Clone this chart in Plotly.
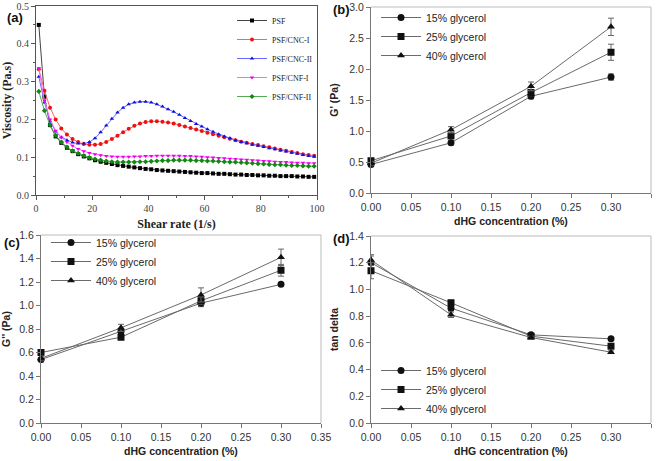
import plotly.graph_objects as go

# ---------------- Panel (a) data ----------------
shear_rate = [1, 3, 5, 7, 9, 11, 13, 15, 17, 19, 21, 23, 25, 27, 29, 31, 33, 35, 37, 39,
              41, 43, 45, 47, 49, 51, 53, 55, 57, 59, 61, 63, 65, 67, 69, 71, 73, 75, 77, 79,
              81, 83, 85, 87, 89, 91, 93, 95, 97, 99]
psf = [0.450, 0.260, 0.185, 0.155, 0.138, 0.125, 0.116, 0.108, 0.102, 0.097,
       0.092, 0.088, 0.085, 0.082, 0.079, 0.077, 0.075, 0.073, 0.071, 0.069,
       0.068, 0.066, 0.065, 0.064, 0.063, 0.062, 0.061, 0.060, 0.059, 0.058,
       0.058, 0.057, 0.056, 0.056, 0.055, 0.054, 0.054, 0.053, 0.053, 0.052,
       0.052, 0.051, 0.051, 0.050, 0.050, 0.050, 0.049, 0.049, 0.048, 0.048]
psf_cnc1 = [0.333, 0.276, 0.231, 0.200, 0.176, 0.160, 0.148, 0.140, 0.135, 0.133,
            0.133, 0.135, 0.140, 0.148, 0.157, 0.166, 0.175, 0.183, 0.189, 0.193,
            0.195, 0.195, 0.194, 0.192, 0.189, 0.185, 0.181, 0.177, 0.173, 0.169,
            0.165, 0.161, 0.157, 0.153, 0.149, 0.145, 0.141, 0.138, 0.135, 0.132,
            0.129, 0.126, 0.123, 0.120, 0.117, 0.114, 0.111, 0.108, 0.106, 0.104]
psf_cnc2 = [0.313, 0.245, 0.195, 0.168, 0.153, 0.145, 0.139, 0.136, 0.136, 0.140,
            0.150, 0.166, 0.184, 0.202, 0.218, 0.231, 0.240, 0.245, 0.247, 0.247,
            0.245, 0.240, 0.234, 0.227, 0.220, 0.212, 0.204, 0.196, 0.188, 0.181,
            0.174, 0.167, 0.161, 0.155, 0.150, 0.145, 0.140, 0.137, 0.133, 0.130,
            0.127, 0.124, 0.121, 0.118, 0.115, 0.112, 0.109, 0.106, 0.103, 0.101]
psf_cnf1 = [0.335, 0.250, 0.200, 0.170, 0.152, 0.140, 0.130, 0.122, 0.116, 0.111,
            0.108, 0.105, 0.103, 0.102, 0.101, 0.101, 0.101, 0.102, 0.102, 0.103,
            0.103, 0.104, 0.104, 0.104, 0.104, 0.104, 0.103, 0.103, 0.102, 0.101,
            0.100, 0.099, 0.098, 0.097, 0.096, 0.095, 0.094, 0.093, 0.092, 0.091,
            0.090, 0.089, 0.088, 0.087, 0.087, 0.086, 0.085, 0.085, 0.084, 0.084]
psf_cnf2 = [0.274, 0.223, 0.185, 0.158, 0.140, 0.127, 0.117, 0.110, 0.104, 0.099,
            0.095, 0.092, 0.090, 0.088, 0.087, 0.087, 0.087, 0.087, 0.088, 0.088,
            0.089, 0.090, 0.091, 0.091, 0.092, 0.092, 0.092, 0.092, 0.091, 0.091,
            0.090, 0.090, 0.089, 0.088, 0.087, 0.087, 0.086, 0.085, 0.084, 0.083,
            0.082, 0.081, 0.080, 0.080, 0.079, 0.078, 0.078, 0.077, 0.076, 0.076]
visc_names = ["PSF", "PSF/CNC-I", "PSF/CNC-II", "PSF/CNF-I", "PSF/CNF-II"]

# ---------------- Panels (b)-(d) data ----------------
dhg = [0.0, 0.1, 0.2, 0.3]
glyc_names = ["15% glycerol", "25% glycerol", "40% glycerol"]

gp_15 = [0.46, 0.81, 1.56, 1.87]
gp_25 = [0.52, 0.92, 1.62, 2.27]
gp_40 = [0.48, 1.02, 1.72, 2.68]
gp_15_err = [0.03, 0.03, 0.04, 0.05]
gp_25_err = [0.04, 0.04, 0.05, 0.13]
gp_40_err = [0.03, 0.05, 0.07, 0.14]

gpp_15 = [0.54, 0.78, 1.02, 1.18]
gpp_25 = [0.60, 0.73, 1.04, 1.30]
gpp_40 = [0.55, 0.81, 1.09, 1.41]
gpp_15_err = [0.02, 0.02, 0.03, 0.01]
gpp_25_err = [0.02, 0.02, 0.03, 0.05]
gpp_40_err = [0.02, 0.03, 0.06, 0.07]

td_15 = [1.20, 0.86, 0.66, 0.63]
td_25 = [1.14, 0.90, 0.65, 0.575]
td_40 = [1.22, 0.81, 0.64, 0.53]
td_15_err = [0.05, 0.02, 0.01, 0.01]
td_25_err = [0.06, 0.02, 0.01, 0.01]
td_40_err = [0.04, 0.02, 0.01, 0.01]

fig = go.Figure()

# ---------------- Panel (a) traces ----------------
visc_series = [psf, psf_cnc1, psf_cnc2, psf_cnf1, psf_cnf2]
line_cols = ["#444444", "#ff6060", "#6a6aff", "#ff66ff", "#55aa55"]
mark_cols = ["#000000", "#ee1111", "#1111dd", "#ee00ee", "#118811"]
mark_syms = ["square", "circle", "triangle-up", "triangle-down", "diamond"]
for name, ys, lc, mc, ms in zip(visc_names, visc_series, line_cols, mark_cols, mark_syms):
    fig.add_trace(go.Scatter(
        x=shear_rate, y=ys, name=name, mode="lines+markers",
        line=dict(color=lc, width=1), marker=dict(color=mc, size=4, symbol=ms),
        xaxis="x", yaxis="y", legend="legend", cliponaxis=False))

# ---------------- Panels (b)-(d) traces ----------------
syms = ["circle", "square", "triangle-up"]
panels = [
    ("x2", "y2", "legend2", [gp_15, gp_25, gp_40], [gp_15_err, gp_25_err, gp_40_err]),
    ("x3", "y3", "legend3", [gpp_15, gpp_25, gpp_40], [gpp_15_err, gpp_25_err, gpp_40_err]),
    ("x4", "y4", "legend4", [td_15, td_25, td_40], [td_15_err, td_25_err, td_40_err]),
]
for xa, ya, lg, ys_list, err_list in panels:
    for name, ys, errs, sym in zip(glyc_names, ys_list, err_list, syms):
        fig.add_trace(go.Scatter(
            x=dhg, y=ys, name=name, mode="lines+markers",
            line=dict(color="#6a6a6a", width=1),
            marker=dict(color="#111111", size=7, symbol=sym),
            error_y=dict(type="data", array=errs, color="#666666", thickness=1, width=3),
            xaxis=xa, yaxis=ya, legend=lg, cliponaxis=False))

W, H = 661, 461


def xd(a, b):
    return [a / W, b / W]


def yd(top, bottom):
    return [1 - bottom / H, 1 - top / H]


serif = "Liberation Serif"
sans = "Liberation Sans"

ax_a_common = dict(showline=True, linecolor="#555555", linewidth=1, mirror=True,
                   ticks="outside", ticklen=4, tickcolor="#555555", showgrid=False,
                   zeroline=False, automargin=False,
                   tickfont=dict(family=serif, size=10, color="#444444"))

ax_common = dict(showline=True, linecolor="#777777", linewidth=1, mirror=False,
                 ticks="outside", ticklen=4, tickcolor="#777777", showgrid=False,
                 zeroline=False, automargin=False,
                 tickfont=dict(family=sans, size=10.5, color="#333333"))

xt_title = dict(text="dHG concentration (%)", font=dict(family=sans, size=10.5, color="#222222",
                                                          weight="bold"), standoff=6)

fig.update_layout(
    width=W, height=H, margin=dict(l=0, r=0, t=0, b=0),
    paper_bgcolor="white", plot_bgcolor="white",
    xaxis=dict(domain=xd(36, 317), range=[0, 100], dtick=20,
               minor=dict(dtick=10, ticks="outside", ticklen=2, tickcolor="#555555"),
               anchor="y",
               title=dict(text="Shear rate (1/s)", font=dict(family=serif, size=12, color="#222222", weight="bold"), standoff=6),
               **ax_a_common),
    yaxis=dict(domain=yd(6, 195), range=[0, 0.5], dtick=0.1, tickformat=".1f",
               minor=dict(dtick=0.05, ticks="outside", ticklen=2, tickcolor="#555555"),
               anchor="x",
               title=dict(text="Viscosity (Pa.s)", font=dict(family=serif, size=12, color="#222222", weight="bold"), standoff=6),
               **ax_a_common),
    xaxis2=dict(domain=xd(371, 651), range=[0, 0.35], dtick=0.05, tickformat=".2f", anchor="y2",
                title=xt_title, **ax_common),
    yaxis2=dict(domain=yd(7, 193), range=[0, 3.0], dtick=0.5, tickformat=".1f", anchor="x2",
                title=dict(text="G' (Pa)", font=dict(family=sans, size=10.5, color="#222222", weight="bold"), standoff=8),
                **ax_common),
    xaxis3=dict(domain=xd(41, 321), range=[0, 0.35], dtick=0.05, tickformat=".2f", anchor="y3",
                title=xt_title, **ax_common),
    yaxis3=dict(domain=yd(235, 423), range=[0, 1.6], dtick=0.2, tickformat=".1f", anchor="x3",
                title=dict(text="G'' (Pa)", font=dict(family=sans, size=10.5, color="#222222", weight="bold"), standoff=8),
                **ax_common),
    xaxis4=dict(domain=xd(371, 651), range=[0, 0.35], dtick=0.05, tickformat=".2f", anchor="y4",
                title=xt_title, **ax_common),
    yaxis4=dict(domain=yd(236, 423), range=[0, 1.4], dtick=0.2, tickformat=".1f", anchor="x4",
                title=dict(text="tan delta", font=dict(family=sans, size=10.5, color="#222222", weight="bold"), standoff=8),
                **ax_common),
    legend=dict(x=232 / W, y=1 - 6 / H, xanchor="left", yanchor="top",
                font=dict(family=serif, size=8, color="#222222"), bgcolor="rgba(0,0,0,0)",
                itemwidth=30, tracegroupgap=0),
    legend2=dict(x=376 / W, y=1 - 3 / H, xanchor="left", yanchor="top",
                 font=dict(family=sans, size=10.5, color="#222222"), bgcolor="rgba(0,0,0,0)",
                 itemwidth=40),
    legend3=dict(x=46 / W, y=1 - 228 / H, xanchor="left", yanchor="top",
                 font=dict(family=sans, size=10.5, color="#222222"), bgcolor="rgba(0,0,0,0)",
                 itemwidth=40),
    legend4=dict(x=376 / W, y=1 - 356 / H, xanchor="left", yanchor="top",
                 font=dict(family=sans, size=10.5, color="#222222"), bgcolor="rgba(0,0,0,0)",
                 itemwidth=40),
)

# light frames on top/right of panels (b)-(d)
for xa, ya in [("x2", "y2"), ("x3", "y3"), ("x4", "y4")]:
    fig.add_shape(type="line", xref=f"{xa} domain", yref=f"{ya} domain", x0=0, x1=1, y0=1, y1=1,
                  line=dict(color="#bbbbbb", width=1))
    fig.add_shape(type="line", xref=f"{xa} domain", yref=f"{ya} domain", x0=1, x1=1, y0=0, y1=1,
                  line=dict(color="#bbbbbb", width=1))

labels = [("(a)", 5, 18), ("(b)", 331, 10), ("(c)", 2, 242), ("(d)", 331, 238)]
for txt, px, py in labels:
    fig.add_annotation(text=f"<b>{txt}</b>", xref="paper", yref="paper", x=px / W, y=1 - py / H,
                       xanchor="left", yanchor="middle", showarrow=False,
                       font=dict(family=sans, size=13, color="#111111"))

fig.write_html("out.html")
